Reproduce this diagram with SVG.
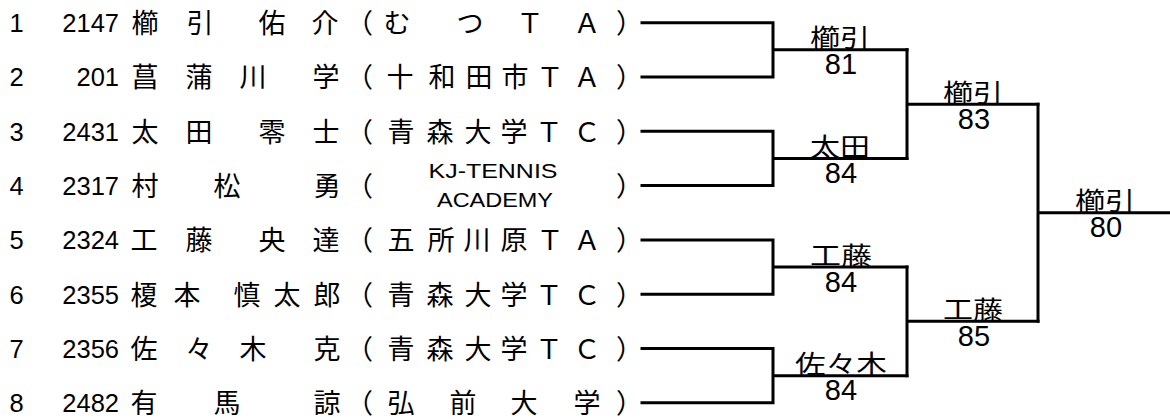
<svg xmlns="http://www.w3.org/2000/svg" width="1170" height="419" viewBox="0 0 1170 419">
<style>
.bg{fill:#fff}
.num{font-family:"Liberation Sans",Arial,sans-serif;font-size:25.5px;fill:#000}
.end{text-anchor:end}
.j{font-family:"Noto Sans CJK JP","Noto Sans CJK SC",sans-serif;font-size:27px;fill:#000;text-anchor:middle}
.p{font-family:"Noto Sans CJK JP","Noto Sans CJK SC",sans-serif;font-size:27px;fill:#000}
.e{font-family:"Liberation Sans",Arial,sans-serif;font-size:21px;fill:#000;text-anchor:middle}
.w{font-family:"Noto Sans CJK JP","Noto Sans CJK SC",sans-serif;font-size:25px;fill:#000;text-anchor:middle}
.s{font-family:"Liberation Sans",Arial,sans-serif;font-size:29px;fill:#000;text-anchor:middle}
.ln{fill:none;stroke:#000;stroke-width:3;stroke-linecap:square}
</style>
<rect class="bg" x="0" y="0" width="1170" height="419"/>
<g id="player1">
<text class="num" x="9.5" y="32">1</text><text class="num end" x="119" y="32">2147</text>
<text class="j" x="145 200 272 325" y="33">櫛引佑介</text>
<text class="p" x="346" y="33">（</text>
<text class="j" x="397 470 530 587" y="33">むつＴＡ</text>
<text class="p" x="616" y="33">）</text>
</g>
<g id="player2" transform="translate(0,54.3)">
<text class="num" x="9.5" y="32">2</text><text class="num end" x="119" y="32">201</text>
<text class="j" x="145 199 253 326" y="33">菖蒲川学</text>
<text class="p" x="346" y="33">（</text>
<text class="j" x="400 442 479 515 550 587" y="33">十和田市ＴＡ</text>
<text class="p" x="616" y="33">）</text>
</g>
<g id="player3" transform="translate(0,108.6)">
<text class="num" x="9.5" y="32">3</text><text class="num end" x="119" y="32">2431</text>
<text class="j" x="145 199 272 326" y="33">太田零士</text>
<text class="p" x="346" y="33">（</text>
<text class="j" x="401 440 478 514 549 587" y="33">青森大学ＴＣ</text>
<text class="p" x="616" y="33">）</text>
</g>
<g id="player4" transform="translate(0,162.9)">
<text class="num" x="9.5" y="32">4</text><text class="num end" x="119" y="32">2317</text>
<text class="j" x="145 227 327" y="33">村松勇</text>
<text class="p" x="346" y="33">（</text>
<text class="e" x="493" y="14.6" textLength="129" lengthAdjust="spacingAndGlyphs">KJ-TENNIS</text>
<text class="e" x="495" y="44.1" textLength="116" lengthAdjust="spacingAndGlyphs">ACADEMY</text>
<text class="p" x="616" y="33">）</text>
</g>
<g id="player5" transform="translate(0,217.2)">
<text class="num" x="9.5" y="32">5</text><text class="num end" x="119" y="32">2324</text>
<text class="j" x="144 199 272 326" y="33">工藤央達</text>
<text class="p" x="346" y="33">（</text>
<text class="j" x="401 441 477 514 550 587" y="33">五所川原ＴＡ</text>
<text class="p" x="616" y="33">）</text>
</g>
<g id="player6" transform="translate(0,271.5)">
<text class="num" x="9.5" y="32">6</text><text class="num end" x="119" y="32">2355</text>
<text class="j" x="144 187 247 287 327" y="33">榎本慎太郎</text>
<text class="p" x="346" y="33">（</text>
<text class="j" x="401 440 478 514 549 587" y="33">青森大学ＴＣ</text>
<text class="p" x="616" y="33">）</text>
</g>
<g id="player7" transform="translate(0,325.8)">
<text class="num" x="9.5" y="32">7</text><text class="num end" x="119" y="32">2356</text>
<text class="j" x="144 199 253 327" y="33">佐々木克</text>
<text class="p" x="346" y="33">（</text>
<text class="j" x="401 440 478 514 549 587" y="33">青森大学ＴＣ</text>
<text class="p" x="616" y="33">）</text>
</g>
<g id="player8" transform="translate(0,380.1)">
<text class="num" x="9.5" y="32">8</text><text class="num end" x="119" y="32">2482</text>
<text class="j" x="144 227 327" y="33">有馬諒</text>
<text class="p" x="346" y="33">（</text>
<text class="j" x="401 463 524 587" y="33">弘前大学</text>
<text class="p" x="616" y="33">）</text>
</g>
<g id="connectors">
<path class="ln" d="M642,22.7H773V77H642M773,49.85H907"/>
<path class="ln" d="M642,131.3H773V185.6H642M773,158.45H907"/>
<path class="ln" d="M642,239.9H773V294.2H642M773,267.05H907"/>
<path class="ln" d="M642,348.5H773V402.8H642M773,375.65H907"/>
<path class="ln" d="M907,49.85V158.45M907,104.15H1038"/>
<path class="ln" d="M907,267.05V375.65M907,321.35H1038"/>
<path class="ln" d="M1038,104.15V321.35M1038,212.75H1170"/>
</g>
<g id="r1m1"><text class="w" x="840" y="47.3" textLength="60" lengthAdjust="spacingAndGlyphs">櫛引</text><text class="s" x="841" y="74.3">81</text></g>
<g id="r1m2"><text class="w" x="840" y="155.9" textLength="60" lengthAdjust="spacingAndGlyphs">太田</text><text class="s" x="841" y="183">84</text></g>
<g id="r1m3"><text class="w" x="841" y="264.5" textLength="62" lengthAdjust="spacingAndGlyphs">工藤</text><text class="s" x="841" y="291.6">84</text></g>
<g id="r1m4"><text class="w" x="841" y="373.1" textLength="92" lengthAdjust="spacingAndGlyphs">佐々木</text><text class="s" x="841" y="400.2">84</text></g>
<g id="r2m1"><text class="w" x="973" y="101.6" textLength="60" lengthAdjust="spacingAndGlyphs">櫛引</text><text class="s" x="974" y="128.6">83</text></g>
<g id="r2m2"><text class="w" x="973" y="318.8" textLength="60" lengthAdjust="spacingAndGlyphs">工藤</text><text class="s" x="974" y="346">85</text></g>
<g id="final"><text class="w" x="1105" y="210.2" textLength="60" lengthAdjust="spacingAndGlyphs">櫛引</text><text class="s" x="1106" y="237.2">80</text></g>
</svg>
